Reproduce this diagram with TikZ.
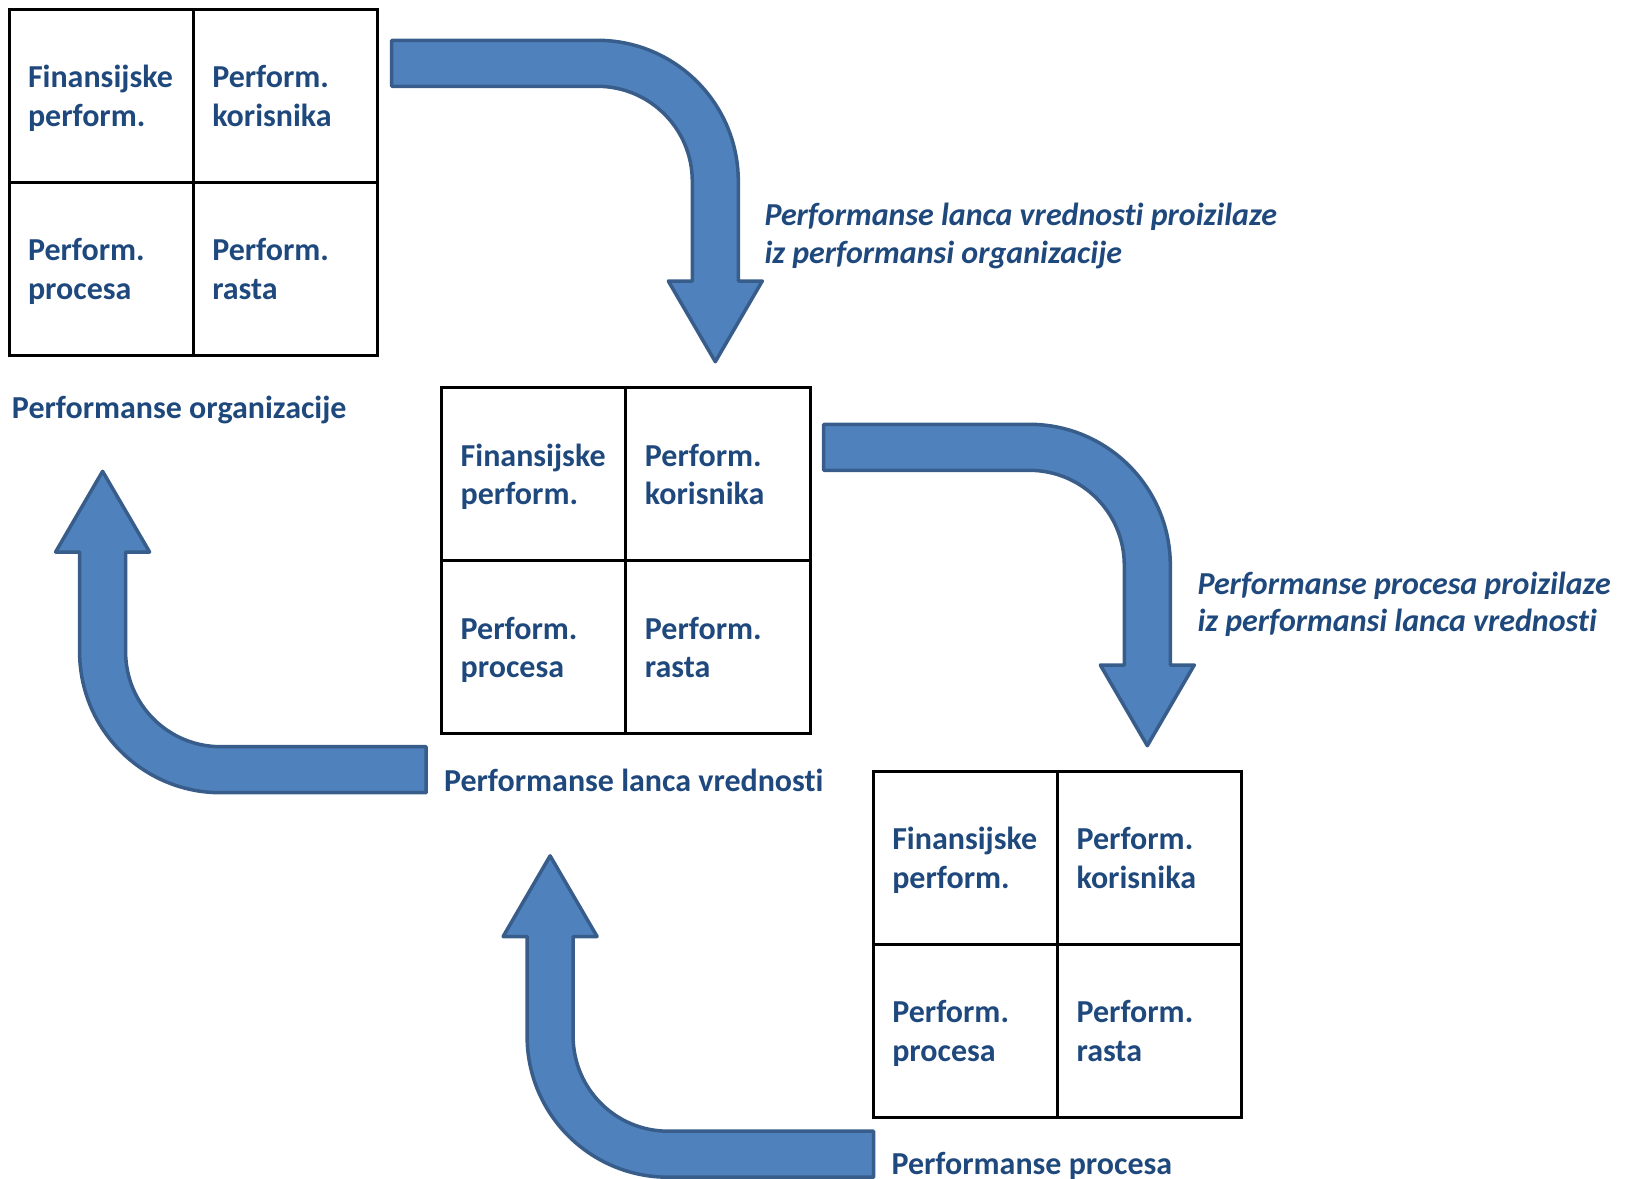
\documentclass[tikz,border=0pt]{standalone}
\usepackage{fontspec}
\setmainfont{Carlito}[Ligatures=CommonOff]
\usetikzlibrary{calc}
\definecolor{txt}{HTML}{1F497D}
\definecolor{arrowfill}{HTML}{4F81BD}
\definecolor{arrowline}{HTML}{385D8A}
\tikzset{
  cell/.style={draw=black,line width=3pt,minimum width=184.25pt,minimum height=173pt,inner sep=0pt,outer sep=0pt,anchor=north west},
  ctext/.style={text=txt,font=\fontsize{32}{38}\selectfont\bfseries,anchor=base west,inner sep=0pt,outer sep=0pt},
  itext/.style={text=txt,font=\fontsize{32}{38}\selectfont\bfseries\itshape,anchor=base west,inner sep=0pt,outer sep=0pt},
  barrow/.style={fill=arrowfill,draw=arrowline,line width=3.5pt,line join=round}
}
\newcommand\makegrid[3]{%
  \node[cell] (#1a) at (#2,-#3) {};
  \node[cell] (#1b) at (#2+184.25,-#3) {};
  \node[cell] (#1c) at (#2,-#3-173) {};
  \node[cell] (#1d) at (#2+184.25,-#3-173) {};
  \node[ctext] (#1a1) at ($(#1a.north west)+(19,-78.5)$) {Finansijske};
  \node[ctext] (#1a2) at ($(#1a.north west)+(19,-117)$) {perform.};
  \node[ctext] (#1b1) at ($(#1b.north west)+(19,-78.5)$) {Perform.};
  \node[ctext] (#1b2) at ($(#1b.north west)+(19,-117)$) {korisnika};
  \node[ctext] (#1c1) at ($(#1c.north west)+(19,-78.5)$) {Perform.};
  \node[ctext] (#1c2) at ($(#1c.north west)+(19,-117)$) {procesa};
  \node[ctext] (#1d1) at ($(#1d.north west)+(19,-78.5)$) {Perform.};
  \node[ctext] (#1d2) at ($(#1d.north west)+(19,-117)$) {rasta};
}
\newcommand\downarrowpath{(-205.6,141) -- (0,141) arc[start angle=90,end angle=0,radius=141pt] -- (141,-99.7) -- (165,-99.7) -- (118,-180.4) -- (71,-99.7) -- (95,-99.7) -- (95,0) arc[start angle=0,end angle=90,radius=95pt] -- (-205.6,95) -- cycle}
\newcommand\uparrowpath{(205.6,-141) -- (0,-141) arc[start angle=270,end angle=180,radius=141pt] -- (-141,99.7) -- (-165,99.7) -- (-118,180.4) -- (-71,99.7) -- (-95,99.7) -- (-95,0) arc[start angle=180,end angle=270,radius=95pt] -- (205.6,-95) -- cycle}
\begin{document}
\begin{tikzpicture}[x=1pt,y=1pt]
\useasboundingbox (0,0) rectangle (1633,-1178);
% grids
\makegrid{g1}{9}{9}
\makegrid{g2}{441.7}{387.7}
\makegrid{g3}{873.3}{771}
% grid labels
\node[ctext] (l1) at (12,-418) {Performanse organizacije};
\node[ctext] (l2) at (444,-791.5) {Performanse lanca vrednosti};
\node[ctext] (l3) at (891.5,-1174) {Performanse procesa};
% arrows
\begin{scope}[shift={(597.3,-181.3)}]
  \draw[barrow] \downarrowpath;
\end{scope}
\begin{scope}[shift={(1029.3,-565.3)}]
  \draw[barrow] \downarrowpath;
\end{scope}
\begin{scope}[shift={(220.6,-651.7)}]
  \draw[barrow] \uparrowpath;
\end{scope}
\begin{scope}[shift={(668.1,-1036.2)}]
  \draw[barrow] \uparrowpath;
\end{scope}
% italic explanations
\node[itext] (i1a) at (764.5,-225.5) {Performanse lanca vrednosti proizilaze};
\node[itext] (i1b) at (764.5,-263) {iz performansi organizacije};
\node[itext] (i2a) at (1197.5,-594) {Performanse procesa proizilaze};
\node[itext] (i2b) at (1197.5,-631.5) {iz performansi lanca vrednosti};
\end{tikzpicture}
\end{document}
